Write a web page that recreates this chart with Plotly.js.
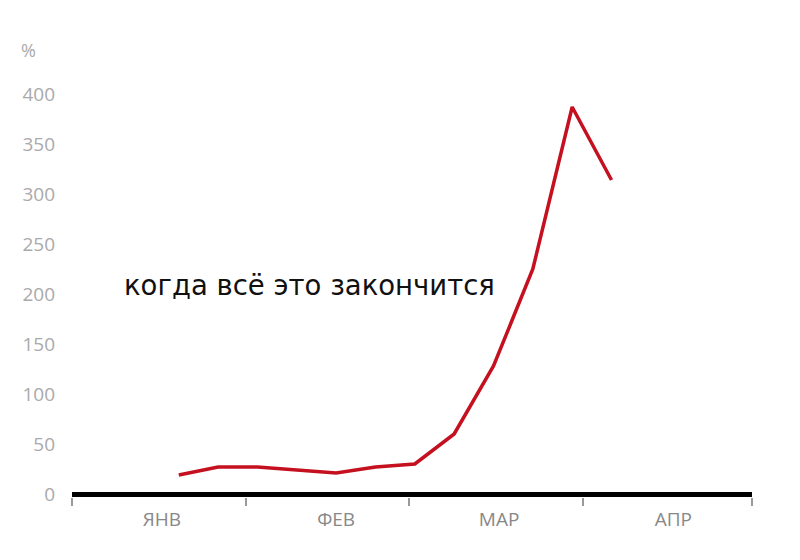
<!DOCTYPE html>
<html>
<head>
<meta charset="utf-8">
<script src="https://cdn.plot.ly/plotly-3.0.1.min.js"></script>
<style>html,body{margin:0;padding:0;background:#fff;}#chart{width:800px;height:560px;}</style>
</head>
<body>
<div id="chart"></div>
<script>
// Weekly dates (2020) and values, %
const dates = ["2020-01-20","2020-01-27","2020-02-03","2020-02-10","2020-02-17","2020-02-24","2020-03-02","2020-03-09","2020-03-16","2020-03-23","2020-03-30","2020-04-06"];
const values = [19, 27, 27, 24, 21, 27, 30, 60, 128, 225, 387, 314];

const monthLabelDates = ["2020-01-17","2020-02-17","2020-03-17","2020-04-17"];
const monthLabels = ["ЯНВ","ФЕВ","МАР","АПР"];
const monthBoundaries = ["2020-01-01","2020-02-01","2020-03-01","2020-04-01","2020-05-01"];
const yTicks = [0, 50, 100, 150, 200, 250, 300, 350, 400];
const annotationText = "когда всё это закончится";

const trace = {
  x: dates, y: values, type: "scatter", mode: "lines",
  line: {color: "#c4101f", width: 3.5},
  hoverinfo: "skip"
};

const layout = {
  width: 800, height: 560,
  margin: {l: 72, r: 48, t: 64, b: 63},
  paper_bgcolor: "#fff", plot_bgcolor: "#fff",
  showlegend: false,
  xaxis: {
    type: "date",
    range: ["2020-01-01", "2020-05-01"],
    tickmode: "array",
    tickvals: monthLabelDates,
    ticktext: monthLabels,
    ticks: "",
    showgrid: false, zeroline: false, showline: false,
    tickfont: {family: "Open Sans, Liberation Sans, sans-serif", size: 19, color: "#888"},
    ticklabelstandoff: 9,
    minor: {tickmode: "array", tickvals: monthBoundaries, ticks: "outside", ticklen: 8, tickwidth: 2, tickcolor: "#999", showgrid: false}
  },
  yaxis: {
    range: [-3, 430],
    tickmode: "array",
    tickvals: yTicks,
    ticks: "",
    showgrid: false,
    zeroline: true, zerolinecolor: "#000", zerolinewidth: 5,
    showline: false,
    tickfont: {family: "Open Sans, Liberation Sans, sans-serif", size: 19, color: "#aaa"},
    ticklabelstandoff: 16
  },
  annotations: [
    {xref: "paper", yref: "paper", x: -0.05, y: 1.032, xanchor: "right", yanchor: "middle",
     text: "%", showarrow: false, font: {family: "Open Sans, sans-serif", size: 18, color: "#aaa"}},
    {xref: "paper", yref: "y", x: 0.074, y: 209, xanchor: "left", yanchor: "middle",
     text: annotationText, showarrow: false, font: {family: "DejaVu Sans, sans-serif", size: 27.5, color: "#111"}}
  ]
};

Plotly.newPlot("chart", [trace], layout, {displayModeBar: false, staticPlot: true});
</script>
</body>
</html>
